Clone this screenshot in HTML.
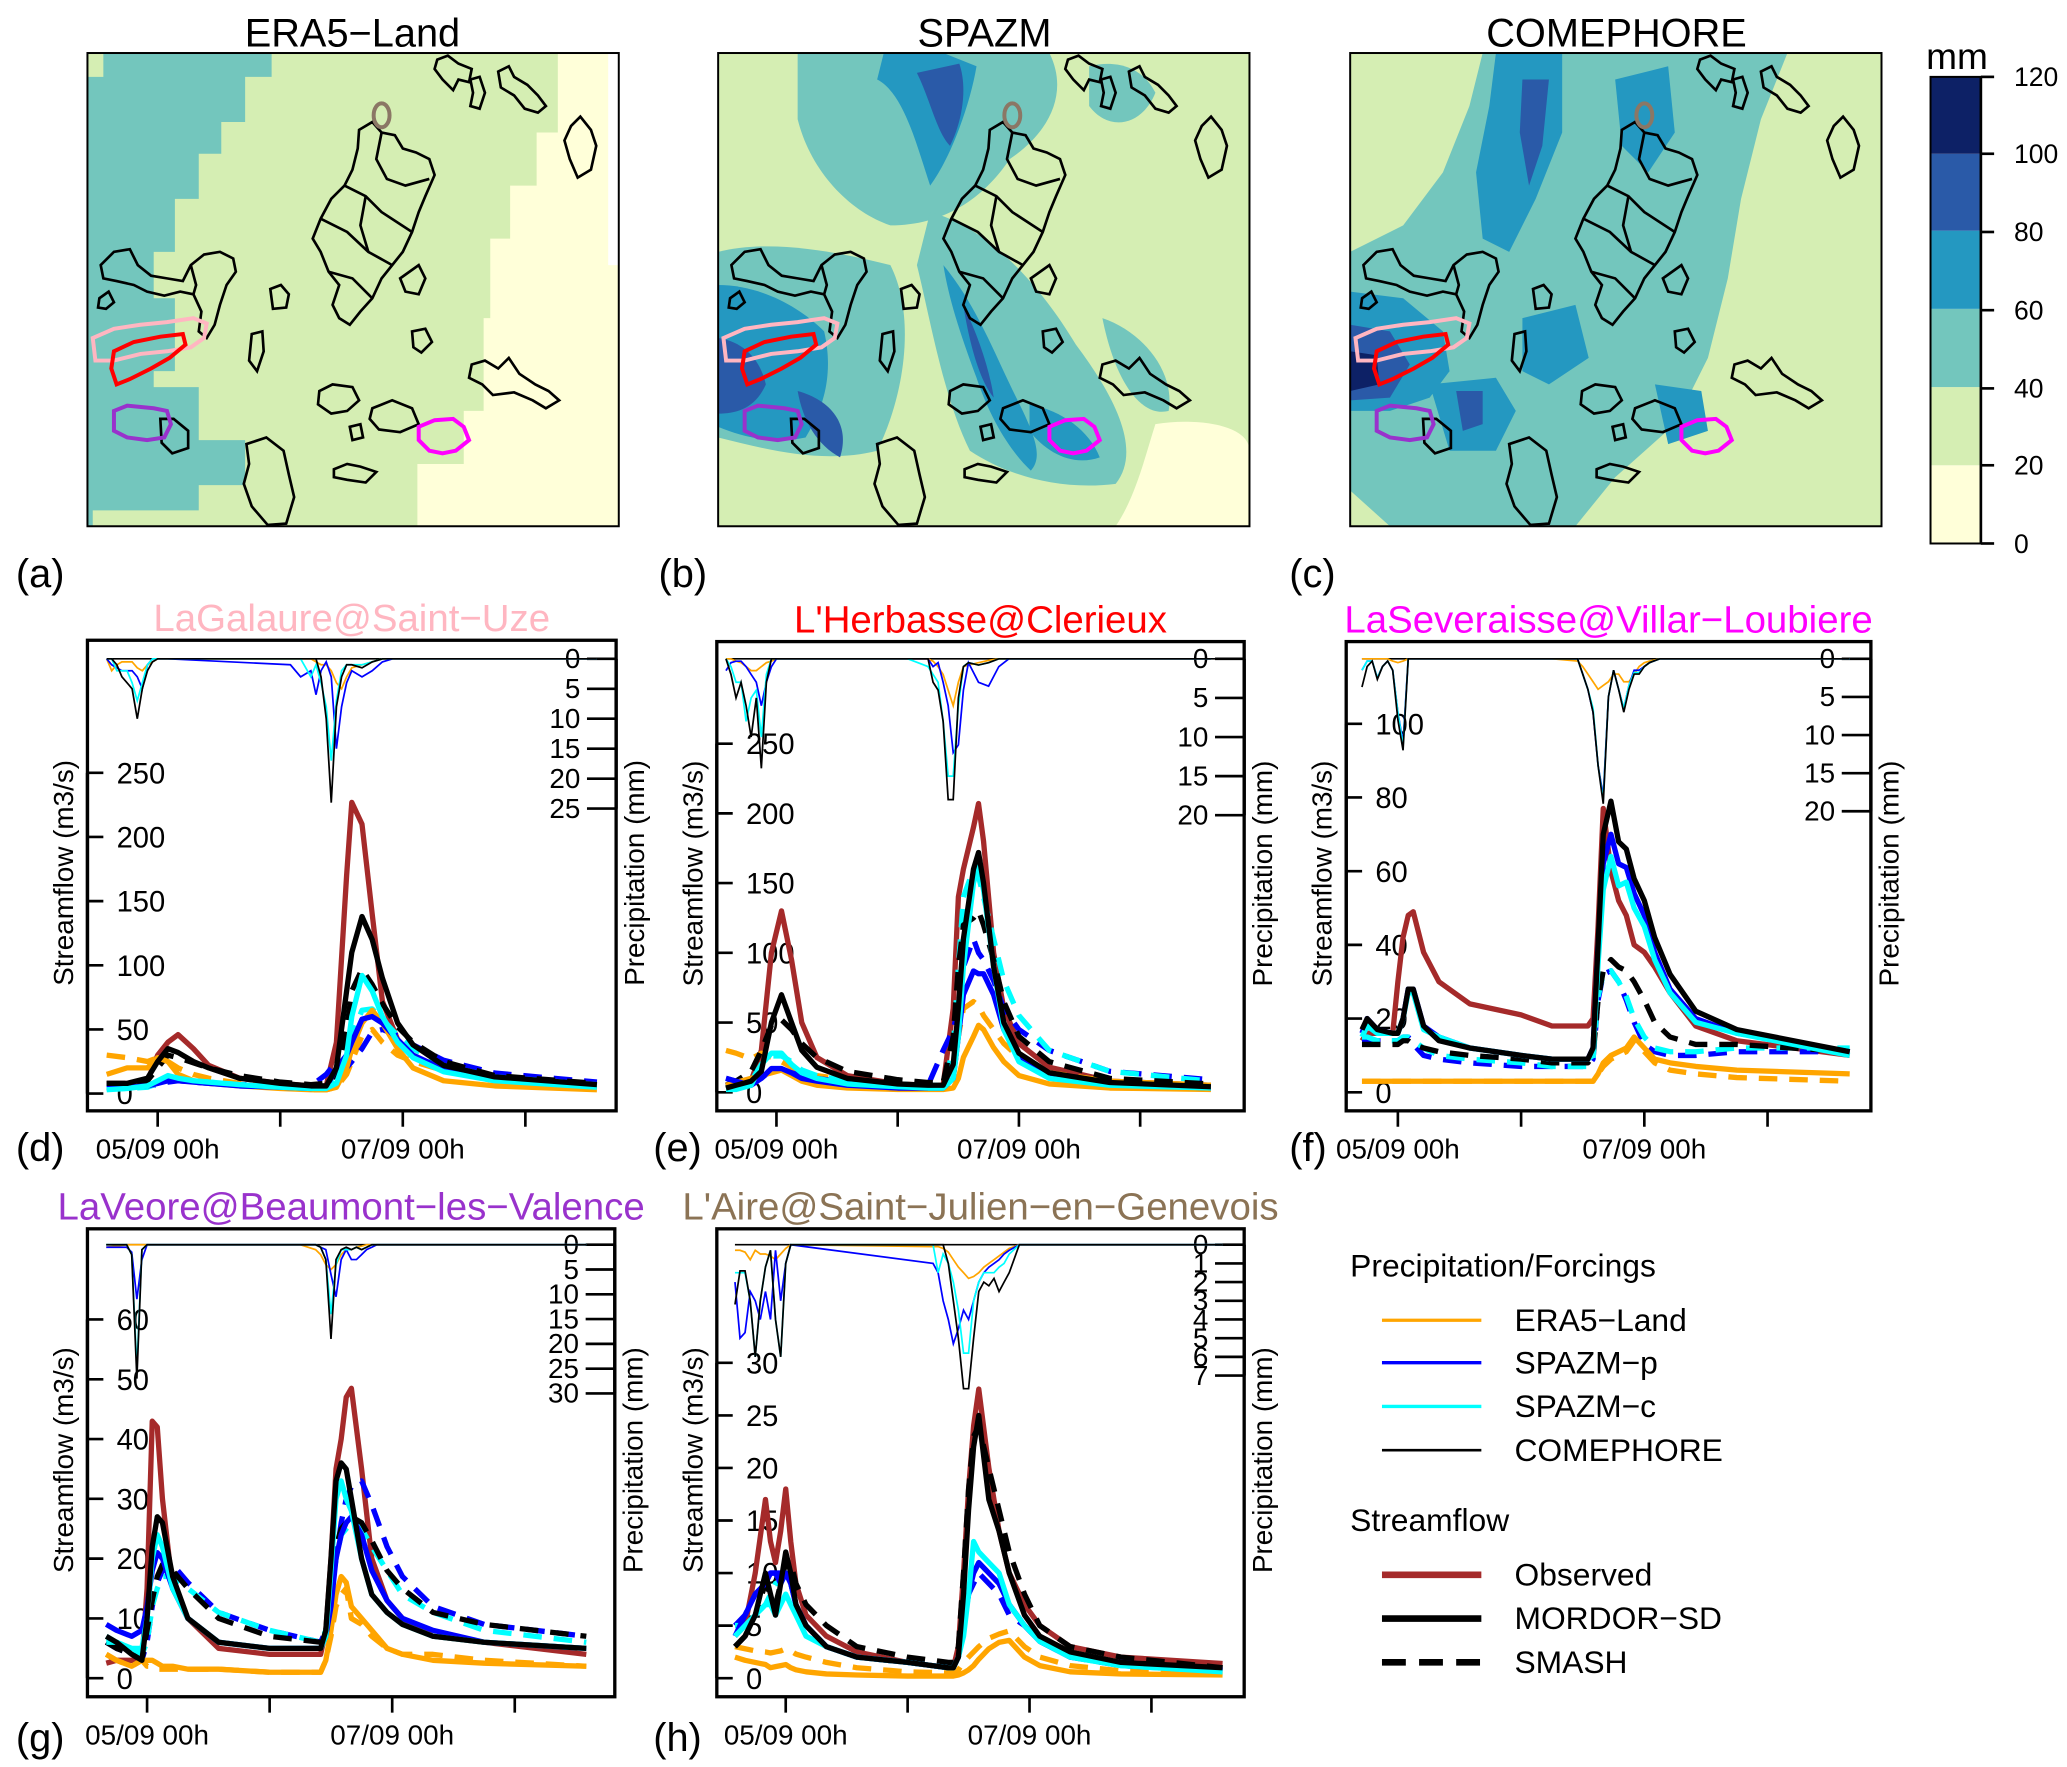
<!DOCTYPE html>
<html><head><meta charset="utf-8"><style>
html,body{margin:0;padding:0;background:#fff;}
svg{display:block;font-family:"Liberation Sans",sans-serif;}
</style></head><body>
<svg id="fig" xmlns="http://www.w3.org/2000/svg" width="2067" height="1767" viewBox="0 0 1560 1333" preserveAspectRatio="none">
<defs>
<clipPath id="mapclip"><rect x="0" y="0" width="401" height="357"/></clipPath>
<g id="catch">
<g fill="none" stroke="#000" stroke-width="2">
<polygon points="264,5 272,2 280,8 290,12 288,22 280,20 276,28 268,20 262,12"/>
<polygon points="310,14 318,10 322,18 332,24 340,32 346,40 340,45 330,42 322,32 312,26"/>
<polygon points="289,20 296,18 300,30 296,42 289,40 291,30"/>
<polygon points="365,55 372,48 380,58 384,70 380,88 370,94 364,80 360,66"/>
<polygon points="205,58 215,52 222,60 232,62 238,72 248,75 258,80 262,92 255,108 250,120 245,135 238,150 230,160 222,170 215,185 206,195 198,205 190,200 185,190 190,175 182,165 176,150 170,140 176,125 184,110 194,100 200,88 204,72"/>
<polyline points="222,60 218,80 226,95 240,100 258,95"/>
<polyline points="194,100 210,108 222,120 245,135"/>
<polyline points="176,125 196,135 212,150 230,160"/>
<polyline points="182,165 200,170 215,185"/>
<polyline points="210,108 206,130 212,150"/>
<polygon points="10,160 20,150 32,148 38,160 48,168 60,170 72,172 78,160 88,152 100,150 110,155 112,165 105,175 100,190 96,205 90,215 84,210 86,195 80,182 70,180 58,183 45,180 35,175 22,172 12,170"/>
<polyline points="78,160 82,175 80,182"/>
<polygon points="9,185 16,180 20,188 14,193 8,192"/>
<polygon points="138,178 146,175 152,182 150,192 140,193"/>
<polygon points="236,170 250,160 255,170 250,182 240,180"/>
<polygon points="124,212 132,210 133,225 128,240 122,232"/>
<polygon points="245,210 255,208 260,218 252,226 246,222"/>
<polygon points="290,235 300,232 310,238 318,230 326,242 338,250 348,255 356,262 346,268 336,262 322,256 306,258 298,250 288,245"/>
<polygon points="175,255 185,250 200,252 205,262 196,270 184,272 174,265"/>
<polygon points="215,268 230,262 245,268 250,280 236,286 220,284 213,276"/>
<polygon points="55,276 65,276 76,285 76,298 64,302 56,294"/>
<polygon points="120,295 135,290 148,300 152,318 156,335 150,355 136,356 124,342 118,325 122,310"/>
<polygon points="186,314 196,310 206,312 218,316 210,324 196,322 186,320"/>
<polygon points="198,282 206,280 208,290 200,292"/>
</g>
<polygon points="4,215 20,208 40,205 60,203 80,200 90,204 88,215 78,222 60,225 40,227 20,232 6,232" fill="none" stroke="#ffb6c1" stroke-width="3"/>
<polygon points="20,225 35,218 55,214 72,212 74,220 62,230 48,238 32,246 22,250 18,238" fill="none" stroke="#ff0000" stroke-width="3"/>
<polygon points="20,270 30,266 50,268 60,270 63,280 58,290 45,292 30,290 20,285" fill="none" stroke="#9932cc" stroke-width="3"/>
<polygon points="250,282 262,277 276,276 284,282 288,292 278,300 268,302 258,300 250,292" fill="none" stroke="#ff00ff" stroke-width="3"/>
<ellipse cx="222" cy="47" rx="6" ry="9" fill="none" stroke="#8b7765" stroke-width="3"/>
</g>
</defs>

<!-- Map a -->
<g transform="translate(66,40)">
<g clip-path="url(#mapclip)">
<rect x="0" y="0" width="401" height="357" fill="#d5eeb3"/>
<path d="M0,0 H139 V18 H119 V52 H101 V76 H84 V110 H66 V150 H50 V185 H66 V240 H50 V252 H84 V292 H119 V326 H84 V345 H4 V357 H0 Z" fill="#73c6bd"/>
<rect x="0" y="0" width="12" height="18" fill="#d5eeb3"/>
<path d="M355,0 H401 V357 H249 V310 H284 V270 H299 V200 H304 V140 H319 V100 H339 V60 H355 Z" fill="#ffffd9"/>
<rect x="393" y="0" width="8" height="160" fill="#fff"/>
<use href="#catch"/>
</g>
<rect x="0" y="0" width="401" height="357" fill="none" stroke="#000" stroke-width="1.5"/>
</g>
<!-- Map b -->
<g transform="translate(542,40)">
<g clip-path="url(#mapclip)">
<rect x="0" y="0" width="401" height="357" fill="#d5eeb3"/>
<path d="M60,0 L250,0 C265,30 250,60 220,80 C200,110 170,130 130,130 C100,120 70,90 60,50 Z" fill="#73c6bd"/>
<path d="M280,10 C300,5 320,10 330,30 C320,55 295,60 280,40 Z" fill="#73c6bd"/>
<path d="M0,150 C40,140 90,150 130,160 C150,200 140,260 120,300 C80,310 40,300 0,290 Z" fill="#73c6bd"/>
<path d="M160,120 C200,130 240,170 270,220 C300,260 320,300 300,325 C260,330 220,320 190,300 C170,260 160,200 150,160 Z" fill="#73c6bd"/>
<path d="M290,200 C320,210 345,240 340,270 C320,275 300,250 290,200 Z" fill="#73c6bd"/>
<path d="M120,20 C140,30 150,70 160,100 C175,80 190,40 195,10 L170,0 L125,0 Z" fill="#2498c1"/>
<path d="M150,15 C160,35 165,60 175,70 C185,50 188,25 182,8 Z" fill="#2a5aa8"/>
<path d="M0,175 C30,175 60,190 80,210 C88,245 78,270 66,290 C40,295 20,290 0,282 Z" fill="#2498c1"/>
<path d="M0,215 C20,218 32,232 36,250 C28,268 14,272 0,272 Z" fill="#2a5aa8"/>
<path d="M170,160 C195,190 210,230 225,260 C240,290 245,305 236,315 C220,300 205,275 195,245 C182,210 174,185 170,160 Z" fill="#2498c1"/>
<path d="M185,190 C197,215 205,240 208,260 C198,248 190,222 185,190 Z" fill="#2a5aa8"/>
<path d="M60,255 C85,262 100,280 92,305 C75,296 64,278 60,255 Z" fill="#2a5aa8"/>
<path d="M235,265 C260,270 280,285 288,305 C268,312 248,302 235,285 Z" fill="#2498c1"/>
<path d="M330,280 C360,275 401,280 401,300 L401,357 L300,357 C315,335 322,305 330,280 Z" fill="#ffffd9"/>
<path d="M0,310 C40,320 90,330 140,357 L0,357 Z" fill="#d5eeb3"/>
<use href="#catch"/>
</g>
<rect x="0" y="0" width="401" height="357" fill="none" stroke="#000" stroke-width="1.5"/>
</g>
<!-- Map c -->
<g transform="translate(1019,40)">
<g clip-path="url(#mapclip)">
<rect x="0" y="0" width="401" height="357" fill="#d5eeb3"/>
<path d="M100,0 L330,0 L310,50 L295,110 L285,170 L270,230 L245,280 L200,320 L170,357 L30,357 L0,330 L0,150 L40,130 L70,90 L90,40 Z" fill="#73c6bd"/>
<path d="M110,0 L160,0 L160,60 L140,110 L120,150 L100,140 L95,90 L105,40 Z" fill="#2498c1"/>
<path d="M130,20 L150,20 L145,70 L135,100 L128,60 Z" fill="#2a5aa8"/>
<path d="M200,20 L240,10 L245,60 L225,90 L205,70 Z" fill="#2498c1"/>
<path d="M0,180 L40,185 L70,210 L75,240 L60,260 L30,270 L0,270 Z" fill="#2498c1"/>
<path d="M0,205 L30,210 L45,235 L30,260 L0,262 Z" fill="#2a5aa8"/>
<path d="M0,225 L20,228 L22,250 L0,255 Z" fill="#0d2166"/>
<path d="M60,250 L110,245 L125,270 L110,300 L75,300 Z" fill="#2498c1"/>
<path d="M80,255 L100,255 L100,280 L85,285 Z" fill="#2a5aa8"/>
<path d="M130,200 L170,190 L180,230 L150,250 L130,240 Z" fill="#2498c1"/>
<path d="M230,250 L265,255 L270,285 L240,295 Z" fill="#2498c1"/>
<use href="#catch"/>
</g>
<rect x="0" y="0" width="401" height="357" fill="none" stroke="#000" stroke-width="1.5"/>
</g>

<g font-size="30" text-anchor="middle" fill="#000">
<text x="266" y="35">ERA5−Land</text>
<text x="743" y="35">SPAZM</text>
<text x="1220" y="35">COMEPHORE</text>
</g>
<g font-size="30" fill="#000">
<text x="12" y="443">(a)</text>
<text x="497" y="443">(b)</text>
<text x="973" y="443">(c)</text>
<text x="12" y="876">(d)</text>
<text x="493" y="876">(e)</text>
<text x="973" y="876">(f)</text>
<text x="12" y="1321">(g)</text>
<text x="493" y="1321">(h)</text>
</g>

<!-- Colorbar -->
<g>
<rect x="1457" y="351" width="38" height="59" fill="#ffffd9"/>
<rect x="1457" y="292" width="38" height="59" fill="#d5eeb3"/>
<rect x="1457" y="233" width="38" height="59" fill="#73c6bd"/>
<rect x="1457" y="174" width="38" height="59" fill="#2498c1"/>
<rect x="1457" y="116" width="38" height="58" fill="#2a5aa8"/>
<rect x="1457" y="58" width="38" height="58" fill="#0d2166"/>
<rect x="1457" y="58" width="38" height="352" fill="none" stroke="#000" stroke-width="1.5"/>
<line x1="1495" y1="58" x2="1495" y2="410" stroke="#000" stroke-width="2"/>
<g stroke="#000" stroke-width="2">
<line x1="1495" y1="58" x2="1505" y2="58"/><line x1="1495" y1="116" x2="1505" y2="116"/><line x1="1495" y1="175" x2="1505" y2="175"/><line x1="1495" y1="234" x2="1505" y2="234"/><line x1="1495" y1="293" x2="1505" y2="293"/><line x1="1495" y1="351" x2="1505" y2="351"/><line x1="1495" y1="410" x2="1505" y2="410"/>
</g>
<g font-size="20" fill="#000">
<text x="1520" y="65">120</text><text x="1520" y="123">100</text><text x="1520" y="182">80</text><text x="1520" y="241">60</text><text x="1520" y="300">40</text><text x="1520" y="358">20</text><text x="1520" y="417">0</text>
</g>
<text x="1477" y="52" font-size="28" text-anchor="middle">mm</text>
</g>

<!-- Legend -->
<g font-size="24" fill="#000">
<text x="1019" y="963">Precipitation/Forcings</text>
<line x1="1043" y1="996" x2="1118" y2="996" stroke="#ffa500" stroke-width="2.5"/>
<text x="1143" y="1004">ERA5−Land</text>
<line x1="1043" y1="1028" x2="1118" y2="1028" stroke="#0000ff" stroke-width="2.5"/>
<text x="1143" y="1036">SPAZM−p</text>
<line x1="1043" y1="1061" x2="1118" y2="1061" stroke="#00ffff" stroke-width="2.5"/>
<text x="1143" y="1069">SPAZM−c</text>
<line x1="1043" y1="1094" x2="1118" y2="1094" stroke="#000" stroke-width="2"/>
<text x="1143" y="1102">COMEPHORE</text>
<text x="1019" y="1155">Streamflow</text>
<line x1="1043" y1="1188" x2="1118" y2="1188" stroke="#a52a2a" stroke-width="5"/>
<text x="1143" y="1196">Observed</text>
<line x1="1043" y1="1221" x2="1118" y2="1221" stroke="#000" stroke-width="5"/>
<text x="1143" y="1229">MORDOR−SD</text>
<line x1="1043" y1="1254" x2="1118" y2="1254" stroke="#000" stroke-width="5" stroke-dasharray="18,10"/>
<text x="1143" y="1262">SMASH</text>
</g>
</svg>
<script>
// ---------- Panel d: LaGalaure@Saint-Uze ----------
const dT = [-10,-6,-2,0,2,4,7,10,16,24,30,33,35,37,38,40,42,44,47,50,56,66,86];
const dObs = [8,8,10,30,40,46,35,22,12,8,6,6,40,170,227,210,140,72,42,30,18,12,8];
const dMorCom = [8,8,12,25,35,32,25,20,12,8,6,6,20,80,110,138,120,90,55,38,22,13,7];
const dMorSpp = [5,5,6,8,10,10,9,8,6,5,4,5,20,30,40,58,60,55,42,30,19,11,6];
const dMorSpc = [3,4,6,10,14,12,10,9,7,5,4,4,8,30,60,92,80,60,40,28,17,10,5];
const dMorEra = [15,20,20,28,25,15,10,8,6,4,3,3,5,20,35,55,65,55,35,20,10,6,3];
const dSmaCom = [8,8,10,20,30,28,24,20,14,9,7,8,15,50,80,97,85,70,52,40,25,14,8];
const dSmaSpp = [5,5,6,7,9,10,9,8,7,6,6,15,25,20,25,35,48,50,45,38,26,16,9];
const dSmaSpc = [4,4,5,8,12,11,10,9,7,6,5,5,10,25,45,65,66,58,45,35,22,13,7];
const dSmaEra = [30,28,25,28,25,20,15,12,8,5,3,3,5,15,25,45,50,40,30,25,18,10,5];
const dTp = [-10,-9,-8,-7,-6,-5,-4,-3,-2,-1,0,2,26,28,30,31,32,33,34,35,36,37,38,40,42,44,46,86];
const dPCom = [0,0,1,3,4,5,10,5,2,0.5,0,0,0,0,0,0,3,10,24,8,3,1,1,1.5,0.5,0,0,0];
const dPSpc = [0,0,2,2,2,4,7,4,1,0,0,0,0,0,3,1,4,8,17,7,2,1,1,1,0.5,0,0,0];
const dPSpp = [0,1,1.5,2,2,2,3,5,1,0,0,0,1,3,2,6,2,0.5,3,15,8,4,2,3,2,0.5,0,0];
const dPEra = [0,2,1,0.5,0.5,0.5,1.5,2,1,0.5,0,0,0,0,0,0.5,1,1,2,4,5,3,1.5,1,0.5,0,0,0];
const dQTicks = [0,50,100,150,200,250];
const dPTicks = [0,5,10,15,20,25];

// ---------- Panel e: L'Herbasse@Clerieux ----------
const eT = [-10,-8,-5,-3,-1,1,3,5,8,14,24,30,33,35,36,37,39,40,41,43,45,48,54,66,86];
const eObs = [3,5,8,30,100,130,95,50,25,12,6,5,5,60,140,160,190,207,180,100,60,35,18,8,5];
const eMorCom = [3,5,8,15,50,70,50,30,18,10,6,5,5,20,60,110,160,172,150,90,50,28,14,7,4];
const eMorSpp = [10,8,5,10,17,17,14,10,8,5,3,3,3,10,40,70,87,85,85,70,45,25,12,6,3];
const eMorSpc = [2,2,5,20,28,28,20,14,10,6,4,3,3,10,40,90,150,163,145,90,45,22,10,5,3];
const eMorEra = [5,7,10,12,14,16,12,8,5,3,2,2,2,3,10,25,40,48,45,32,22,12,6,3,2];
const eSmaCom = [5,8,15,30,48,52,45,35,25,15,9,7,7,40,90,120,125,130,120,95,65,40,22,10,6];
const eSmaSpp = [10,8,6,10,16,16,14,12,10,7,5,5,30,45,60,90,110,100,95,80,60,45,30,15,9];
const eSmaSpc = [3,4,8,20,26,26,22,16,12,8,6,5,5,30,90,140,160,155,140,110,80,55,30,15,8];
const eSmaEra = [30,28,24,28,25,22,18,14,12,9,6,4,4,10,40,60,65,62,55,45,35,25,14,8,5];
const eTp = [-10,-9,-8,-7,-6,-5,-4,-3,-2,-1,0,2,26,28,30,31,32,33,34,35,36,37,38,40,42,44,46,86];
const ePCom = [0,2,5,3,6,10,5,14,3,0,0,0,0,0,0,3,4,8,18,18,5,1,0.5,0.8,0.5,0,0,0];
const ePSpc = [0,1,3,3,8,5,4,10,2,0,0,0,0,0.5,1,2,3,8,15,15,6,1,0.5,0.8,0.5,0,0,0];
const ePSpp = [1.5,0.5,0.3,0.3,1,2,3,6,3,1,0,0,0,0,0,1,0.5,3,6,12,11,4,0.5,3,3.5,1,0,0];
const ePEra = [0,0,0.3,0.5,1,1.5,1.5,1,0.5,0.3,0,0,0,0,0,0.3,1,2,4,6,3,1,0.8,0.5,0.2,0,0,0];
const eQTicks = [0,50,100,150,200,250];
const ePTicks = [0,5,10,15,20];

// ---------- Panel f: LaSeveraisse@Villar-Loubiere ----------
const fT = [-7,-6,-4,-1,0,1,2,3,5,8,14,24,30,37,38,39,40,41.5,43,44.5,46,48,50,53,58,66,88];
const fObs = [14,16,16,16,30,42,48,49,38,30,24,21,18,18,20,45,77,60,52,48,40,38,34,27,18,14,10];
const fMorCom = [17,20,17,16,16,20,28,28,18,14,12,10,9,9,12,40,70,79,68,66,58,52,42,32,22,17,11];
const fMorSpp = [16,20,17,16,16,20,28,28,18,15,12,10,9,9,12,40,62,70,62,61,54,48,38,28,20,16,11];
const fMorSpc = [15,18,16,16,16,20,27,27,17,15,12,10,9,9,10,35,55,64,56,57,50,45,36,27,19,16,10];
const fMorEra = [3,3,3,3,3,3,3,3,3,3,3,3,3,3,3,5,8,10,11,12,15,12,9,8,7,6,5];
const fSmaCom = [13,13,13,13,13,14,14,13,12,11,10,9,8,8,10,25,33,36,34,33,30,25,19,15,13,13,11];
const fSmaSpp = [14,14,14,14,14,15,15,13,10,9,8,7,7,7,9,25,32,33,30,25,19,13,11,10,10,11,11];
const fSmaSpc = [15,15,14,14,14,15,15,14,12,10,9,8,7,7,9,26,32,33,30,26,20,15,12,11,11,12,12];
const fSmaEra = [3,3,3,3,3,3,3,3,3,3,3,3,3,3,3,5,7,9,10,11,14,11,8,6,5,4,3];
const fTp = [-7,-6,-5,-4,-3,-2,-1,0,1,2,30,35,36,37,38,39,40,41,42,43,44,45,46,47,48,49,51,88];
const fPCom = [3.7,1,0.3,2.7,1,0.3,1.5,8,12,0,0,0,2,4,7,14,19,5,1.5,4,7,4,2,2,1,0.5,0,0];
const fPSpp = [1.5,0.3,0.3,2.5,1,0.3,1.5,7,11,0,0,0,2,4,7,14,18,5,1.5,4,6.5,3.5,1.5,1.5,1,0.5,0,0];
const fPSpc = [1.5,0.3,0.3,2.5,1,0.3,1.5,7,11.5,0,0,0,2,4,6.5,14,18.5,5,1.5,4,6.5,3.5,1.8,1.8,1,0.5,0,0];
const fPEra = [0,0,0,0,0,0,0.3,0.5,0.3,0,0,0.3,1,2,3,4,3.5,3,2,2,3,3,2,1,0.5,0.3,0,0];
const fQTicks = [0,20,40,60,80,100];
const fPTicks = [0,5,10,15,20];

// ---------- Panel g: LaVeore@Beaumont-les-Valence ----------
const gT = [-8,-6,-3,-1,0,1,2,3,5,8,14,24,34,35,36,37,38,39,40,42,44,47,50,56,66,86];
const gObs = [2.5,3,3,3,15,43,42,30,15,10,5,4,4,8,20,35,40,47,48.5,35,20,13,10,7,6,4];
const gMorCom = [7,6,4,3,10,22,27,26,17,10,6,5,5,8,20,33,36,35,30,20,14,11,9,7,6,5];
const gMorSpp = [9,8,7,8,12,18,21,20,15,10,6,5,5,7,12,20,24,26,27,24,18,13,10,8,6,5];
const gMorSpc = [6,6,5,5,10,20,24,22,15,10,6,5,5,7,18,30,33,30,28,20,14,11,9,7,6,5];
const gMorEra = [4,3,2,3,3,3,2.5,2,2,1.5,1.5,1,1,3,8,14,17,16,12,10,8,5,4,3,2.5,2];
const gSmaCom = [6,5,4,3,8,13,17,19,18,15,10,7,6,8,15,22,25,26,27,26,23,18,15,11,9,7];
const gSmaSpp = [6,5,4,3,6,12,16,18,19,16,11,8,6,8,14,20,26,30,32,33,29,22,17,12,9,7];
const gSmaSpc = [7,6,5,4,6,12,15,17,17,15,11,8,6,8,14,20,24,25,26,25,22,18,14,11,8,6];
const gSmaEra = [4,3,2,3,2,2,1.5,1.5,1.5,1.5,1.5,1,1,3,7,12,14,15,10,9,7,5,4,4,3,2];
const gTp = [-8,-4,-3,-2,-1,0,1,30,33,34,35,36,37,38,39,40,41,42,43,44,45,46,86];
const gPCom = [0,0,2,27,1,0,0,0,0,0.5,3,19,3,1,0.5,1,0.5,1,0.5,0,0,0,0];
const gPSpc = [0,0,2,25,1,0,0,0,0,0.5,3,14,4,1,1,1,0.5,1,0.5,0,0,0,0];
const gPSpp = [0.5,0.5,1.5,11,3,0,0,0,0,0.5,1,6,10.5,3,1,3,3,2,1,0.5,0,0,0];
const gPEra = [0.5,0,0,0,0,0,0,0,1,2,4,5,4,2,1,1,0.5,0.3,0,0,0,0,0];
const gQTicks = [0,10,20,30,40,50,60];
const gPTicks = [0,5,10,15,20,25,30];

// ---------- Panel h: L'Aire@Saint-Julien-en-Genevois ----------
const hT = [-10,-8,-6,-4,-3,-2,-1,0,1,2,4,8,14,24,32,33,34,35,36,37,38,40,42,44,47,50,56,66,86];
const hObs = [4,5,10,17,13,11,14,18,13,9,6,4,2.5,1.5,1,1,3,10,18,24,27.5,20,14,10,7,5,3,2,1.4];
const hMorCom = [3,4,6,10,8,6,9,12,10,7,5,3,2,1.5,1,1,2,8,16,22,25,17,14,10,6,4,2.5,1.5,1];
const hMorSpp = [4,6,8,9,10,10,9,10,9,7,5,3,2,1.5,1,1,2,5,8,10,11,10,9,7,5,3.5,2,1.5,0.8];
const hMorSpc = [4,5,6,7,7,6,7,8,7,6,4,3,2,1.5,1,1,2,4,8,13,12,11,10,7,5,3.5,2,1.2,0.6];
const hMorEra = [2,1.7,1.5,1.3,1,1.1,1.2,1.3,1,0.8,0.6,0.4,0.3,0.2,0.2,0.2,0.3,0.5,0.8,1.2,1.8,2.8,3.4,3.6,2,1.2,0.6,0.4,0.3];
const hSmaCom = [3,4,6,9,8,7,9,11,11,9,7,5,3,2,1.5,1.5,3,10,18,23,24,20,16,12,8,5,3,2,1];
const hSmaSpp = [5,6,8,9,10,10,10,10,9,7,5,3,2,1.5,1,1,2,5,8,9,10,9,8,6,5,3.5,2,1.2,0.7];
const hSmaSpc = [5,5,6,7,8,9,9,10,9,7,5,3,2,1.5,1,1,2,5,8,10,11,10,9,7,5,3.5,2,1.2,0.6];
const hSmaEra = [3,2.8,2.6,2.5,2.4,2.5,2.6,2.8,2.6,2.3,2,1.5,1,0.6,0.5,0.5,0.8,1.5,2,2.5,3,3.8,4.2,4.5,3,2,1.2,0.7,0.4];
const hTp = [-10,-9,-8,-7,-6,-5,-4,-3,-2,-1,0,1,29,30,31,32,33,34,35,36,37,38,39,40,41,42,43,44,46,86];
const hPCom = [3.2,1.4,1.4,3,6,3,1.2,0.3,4,6,1,0,0,0,0,1,3,5,7.7,7.7,5,2.5,2,2.2,1.8,2.5,2,1.5,0,0];
const hPSpp = [2,5,4.7,2.5,3,4,2.5,4,0.3,3,1,0,1,1.5,3,4,5.3,4.5,3.5,4,3,2,1.5,1.2,1,0.8,0.5,0.3,0,0];
const hPSpc = [1.5,1.5,1.5,3,6,3,1.2,0.3,4,6,1,0,0,1.5,0.5,1,2,3.5,5.8,5.8,3,2,1.5,1.5,1.5,1.2,1,0.5,0,0];
const hPEra = [0.3,0.3,0.4,0.8,0.3,0.5,0.5,0.6,0.8,0.5,0.2,0,0.1,0.1,0.2,0.4,0.8,1.2,1.5,1.8,1.7,1.5,1.2,1,0.8,0.6,0.4,0.2,0,0];
const hQTicks = [0,5,10,15,20,25,30];
const hPTicks = [0,1,2,3,4,5,6,7];

const NS = 'http://www.w3.org/2000/svg';
const svg = document.getElementById('fig');
function mk(tag, attrs, parent){
  const el = document.createElementNS(NS, tag);
  for (const k in attrs) el.setAttribute(k, attrs[k]);
  parent.appendChild(el);
  return el;
}
const C = {era:'#ffa500', spp:'#0000ff', spc:'#00ffff', com:'#000000', obs:'#a52a2a'};

function drawPanel(cfg){
  const g = mk('g', {}, svg);
  
  
  const tx = t => cfg.x0 + t * cfg.day / 24;
  const qy = v => cfg.q0y - v * cfg.qpx;
  const py = v => cfg.p0y + v * cfg.ppx;
  const [bx0, by0, bx1, by1] = cfg.box;
  const tt = mk('text', {x:(bx0+bx1)/2, y:by0-7, 'font-size':29, 'text-anchor':'middle', fill:cfg.tcolor}, g);
  tt.textContent = cfg.title;
  
  
  const bx = mk('rect', {x:bx0, y:by0, width:bx1-bx0, height:by1-by0, fill:'none', stroke:'#000', 'stroke-width':2.5}, g);
  
  
  const labs = ['05/09 00h','','07/09 00h',''];
  for (let k = 0; k < 4; k++){
    const x = cfg.x0 + k * cfg.day;
    const tk = mk('line', {x1:x, x2:x, y1:by1, y2:by1+12, stroke:'#000', 'stroke-width':2}, g);
    
    
    if (labs[k]){
      const tl = mk('text', {x:x, y:by1+36, 'font-size':21, 'text-anchor':'middle'}, g);
      tl.textContent = labs[k];
      
      
    }
  }
  const qmax = cfg.qTicks[cfg.qTicks.length-1];
  const qa = mk('line', {x1:bx0, x2:bx0, y1:qy(0), y2:qy(qmax), stroke:'#000', 'stroke-width':2.5}, g);
  
  
  cfg.qTicks.forEach(v => {
    const l = mk('line', {x1:bx0, x2:bx0+12, y1:qy(v), y2:qy(v), stroke:'#000', 'stroke-width':2}, g);
    
    
    const t = mk('text', {x:bx0+22, y:qy(v)+8, 'font-size':22}, g);
    t.textContent = v;
    
    
  });
  const ql = mk('text', {x:0, y:0, 'font-size':21, 'text-anchor':'middle', transform:`translate(${bx0-11},${(by0+by1)/2 - 2}) rotate(-90)`}, g);
  ql.textContent = 'Streamflow (m3/s)';
  
  
  const pmax = cfg.pTicks[cfg.pTicks.length-1];
  const pa = mk('line', {x1:bx1, x2:bx1, y1:py(0), y2:py(pmax), stroke:'#000', 'stroke-width':2.5}, g);
  
  
  cfg.pTicks.forEach(v => {
    const l = mk('line', {x1:bx1-22, x2:bx1, y1:py(v), y2:py(v), stroke:'#000', 'stroke-width':2}, g);
    
    
    const t = mk('text', {x:bx1-27, y:py(v)+7, 'font-size':21, 'text-anchor':'end'}, g);
    t.textContent = v;
    
    
  });
  const pl = mk('text', {x:0, y:0, 'font-size':21, 'text-anchor':'middle', transform:`translate(${bx1+21},${(by0+by1)/2 - 2}) rotate(-90)`}, g);
  pl.textContent = 'Precipitation (mm)';
  
  
  const zero = mk('line', {x1:tx(cfg.Tp[0]), x2:bx1, y1:py(0), y2:py(0), stroke:'#000', 'stroke-width':1.2}, g);
  
  
  cfg.precip.forEach(s => {
    const d = cfg.Tp.map((t,i) => (i?'L':'M') + tx(t).toFixed(1) + ',' + py(s.v[i]).toFixed(1)).join('');
    const p = mk('path', {d:d, fill:'none', stroke:s.c, 'stroke-width':1.3}, g);
    
    
  });
  cfg.flow.forEach(s => {
    const d = cfg.T.map((t,i) => (i?'L':'M') + tx(t).toFixed(1) + ',' + qy(s.v[i]).toFixed(1)).join('');
    const attrs = {d:d, fill:'none', stroke:s.c, 'stroke-width':4, 'stroke-linejoin':'round'};
    if (s.dash) attrs['stroke-dasharray'] = '14,9';
    const p = mk('path', attrs, g);
    
    
  });
}

function flows(obs, mc, mp, ms, me, sc, sp, ss, se){
  return [
    {n:'observed-line', c:C.obs, v:obs},
    {n:'smash-era5-line', c:C.era, v:se, dash:1},
    {n:'smash-spazm-p-line', c:C.spp, v:sp, dash:1},
    {n:'smash-spazm-c-line', c:C.spc, v:ss, dash:1},
    {n:'smash-comephore-line', c:C.com, v:sc, dash:1},
    {n:'mordor-era5-line', c:C.era, v:me},
    {n:'mordor-spazm-p-line', c:C.spp, v:mp},
    {n:'mordor-spazm-c-line', c:C.spc, v:ms},
    {n:'mordor-comephore-line', c:C.com, v:mc}
  ];
}
function precs(era, spp, spc, com){
  return [
    {n:'precip-era5-line', c:C.era, v:era},
    {n:'precip-spazm-p-line', c:C.spp, v:spp},
    {n:'precip-spazm-c-line', c:C.spc, v:spc},
    {n:'precip-comephore-line', c:C.com, v:com}
  ];
}

drawPanel({name:'panel-d-lagalaure', title:'LaGalaure@Saint−Uze', tcolor:'#ffb6c1',
  box:[66,483,465,838], x0:119, day:92.5, q0y:825, qpx:0.968, p0y:497, ppx:4.52,
  qTicks:dQTicks, pTicks:dPTicks, T:dT, Tp:dTp,
  flow:flows(dObs,dMorCom,dMorSpp,dMorSpc,dMorEra,dSmaCom,dSmaSpp,dSmaSpc,dSmaEra),
  precip:precs(dPEra,dPSpp,dPSpc,dPCom)});
drawPanel({name:'panel-e-herbasse', title:"L'Herbasse@Clerieux", tcolor:'#ff0000',
  box:[541,484,939,838], x0:586, day:91.5, q0y:824, qpx:1.052, p0y:497, ppx:5.9,
  qTicks:eQTicks, pTicks:ePTicks, T:eT, Tp:eTp,
  flow:flows(eObs,eMorCom,eMorSpp,eMorSpc,eMorEra,eSmaCom,eSmaSpp,eSmaSpc,eSmaEra),
  precip:precs(ePEra,ePSpp,ePSpc,ePCom)});
drawPanel({name:'panel-f-severaisse', title:'LaSeveraisse@Villar−Loubiere', tcolor:'#ff00ff',
  box:[1016,484,1412,838], x0:1055, day:93, q0y:824, qpx:2.78, p0y:497, ppx:5.75,
  qTicks:fQTicks, pTicks:fPTicks, T:fT, Tp:fTp,
  flow:flows(fObs,fMorCom,fMorSpp,fMorSpc,fMorEra,fSmaCom,fSmaSpp,fSmaSpc,fSmaEra),
  precip:precs(fPEra,fPSpp,fPSpc,fPCom)});
drawPanel({name:'panel-g-veore', title:'LaVeore@Beaumont−les−Valence', tcolor:'#9932cc',
  box:[66,927,464,1280], x0:111, day:92.5, q0y:1266, qpx:4.51, p0y:939, ppx:3.74,
  qTicks:gQTicks, pTicks:gPTicks, T:gT, Tp:gTp,
  flow:flows(gObs,gMorCom,gMorSpp,gMorSpc,gMorEra,gSmaCom,gSmaSpp,gSmaSpc,gSmaEra),
  precip:precs(gPEra,gPSpp,gPSpc,gPCom)});
drawPanel({name:'panel-h-aire', title:"L'Aire@Saint−Julien−en−Genevois", tcolor:'#8b7355',
  box:[541,927,939,1280], x0:593, day:92, q0y:1266, qpx:7.93, p0y:939, ppx:14.1,
  qTicks:hQTicks, pTicks:hPTicks, T:hT, Tp:hTp,
  flow:flows(hObs,hMorCom,hMorSpp,hMorSpc,hMorEra,hSmaCom,hSmaSpp,hSmaSpc,hSmaEra),
  precip:precs(hPEra,hPSpp,hPSpc,hPCom)});
</script>
</body></html>
